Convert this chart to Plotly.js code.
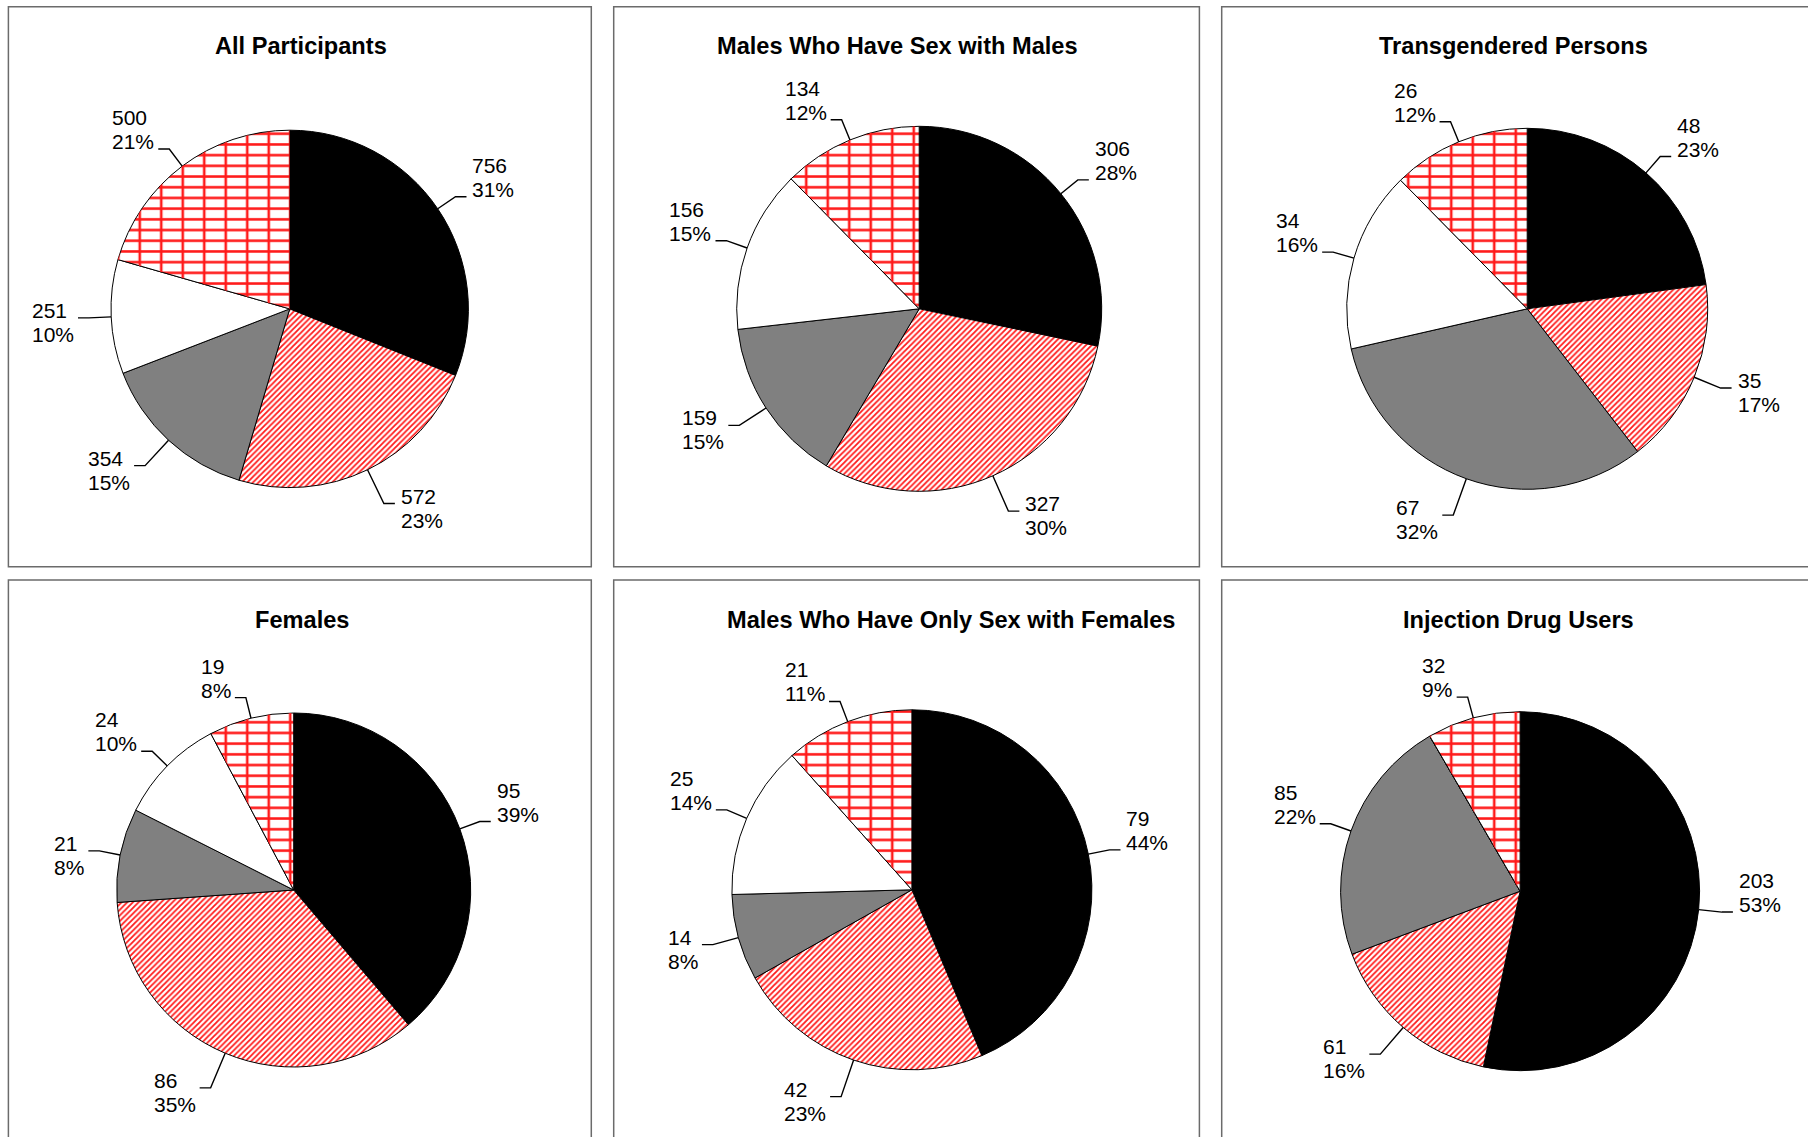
<!DOCTYPE html>
<html><head><meta charset="utf-8">
<script src="https://cdn.plot.ly/plotly-3.0.1.min.js"></script>
<style>html,body{margin:0;padding:0;background:#fff;} #chart{width:1808px;height:1137px;}</style>
</head><body><div id="chart"></div>
<script>
// ---------------- DATA ----------------
const categories = ['Category 1', 'Category 2', 'Category 3', 'Category 4', 'Category 5'];
const panelTitles = ['All Participants', 'Males Who Have Sex with Males', 'Transgendered Persons',
                     'Females', 'Males Who Have Only Sex with Females', 'Injection Drug Users'];
const allParticipants    = [756, 572, 354, 251, 500];
const allParticipantsPct = ['31%', '23%', '15%', '10%', '21%'];
const msm                = [306, 327, 159, 156, 134];
const msmPct             = ['28%', '30%', '15%', '15%', '12%'];
const transgendered      = [48, 35, 67, 34, 26];
const transgenderedPct   = ['23%', '17%', '32%', '16%', '12%'];
const females            = [95, 86, 21, 24, 19];
const femalesPct         = ['39%', '35%', '8%', '10%', '8%'];
const msf                = [79, 42, 14, 25, 21];
const msfPct             = ['44%', '23%', '8%', '14%', '11%'];
const idu                = [203, 61, 85, 0, 32];
const iduPct             = ['53%', '16%', '22%', '', '9%'];

const seriesValues = [allParticipants, msm, transgendered, females, msf, idu];
const seriesPct    = [allParticipantsPct, msmPct, transgenderedPct, femalesPct, msfPct, iduPct];

// ---------------- LAYOUT CONFIG ----------------
const W = 1808, H = 1137;
const FONT = '"Liberation Sans", Arial, Helvetica, sans-serif';
const LABEL_SIZE = 21, LINE_GAP = 24;
const panels = [
  {box: [8.4, 6.7, 591.3, 566.7],     cx: 289.7,  cy: 308.9, r: 178.7, tx: 300.8,  ty: 46},
  {box: [613.7, 6.7, 1199.4, 566.7],  cx: 919.2,  cy: 308.8, r: 182.5, tx: 897.2,  ty: 46},
  {box: [1221.7, 6.7, 1830, 566.7],   cx: 1527.2, cy: 308.8, r: 180.5, tx: 1513,   ty: 46},
  {box: [8.4, 580, 591.3, 1160],      cx: 293.7,  cy: 890,   r: 177,   tx: 301.5,  ty: 619.5},
  {box: [613.7, 580, 1199.4, 1160],   cx: 911.9,  cy: 889.8, r: 180,   tx: 950.8,  ty: 619.5},
  {box: [1221.7, 580, 1830, 1160],    cx: 1520.1, cy: 891.2, r: 179.5, tx: 1518.2, ty: 619.5}
];
const sliceColors = ['#000000', '#ffffff', '#808080', '#ffffff', '#ffffff'];
const px = x => x / W;
const py = y => 1 - y / H;

const ctx = document.createElement('canvas').getContext('2d');
ctx.font = LABEL_SIZE + 'px "Liberation Sans"';
const textW = s => ctx.measureText(s).width;

const traces = [], shapes = [], annotations = [];

panels.forEach((p, i) => {
  const vals = seriesValues[i], pcts = seriesPct[i];
  const domain = {x: [px(p.cx - p.r), px(p.cx + p.r)], y: [py(p.cy + p.r), py(p.cy - p.r)]};
  traces.push({
    type: 'pie', values: vals, labels: categories, sort: false, direction: 'clockwise', rotation: 0,
    textinfo: 'none', hoverinfo: 'label+value', showlegend: false, domain: domain,
    marker: {
      colors: sliceColors, line: {color: '#000000', width: 1},
      pattern: {shape: ['', '/', '', '', '-'], fgcolor: '#ff1a1a', bgcolor: '#ffffff',
                size: [8, 4, 8, 8, 10.7], solidity: [0.3, 0.45, 0.3, 0.3, 0.24], fillmode: 'replace'}
    }
  });
  // overlay providing the vertical joints of the brick fill
  traces.push({
    type: 'pie', values: vals, labels: categories, sort: false, direction: 'clockwise', rotation: 0,
    textinfo: 'none', hoverinfo: 'skip', showlegend: false, domain: domain,
    marker: {
      colors: ['rgba(0,0,0,0)', 'rgba(0,0,0,0)', 'rgba(0,0,0,0)', 'rgba(0,0,0,0)', 'rgba(0,0,0,0)'],
      line: {color: 'rgba(0,0,0,0)', width: 0},
      pattern: {shape: ['', '', '', '', '|'], fgcolor: '#ff1a1a', bgcolor: 'rgba(0,0,0,0)',
                size: 21.5, solidity: 0.12, fillmode: 'replace'}
    }
  });

  // panel frame
  shapes.push({type: 'rect', xref: 'paper', yref: 'paper', x0: px(p.box[0]), x1: px(p.box[2]),
               y0: py(p.box[3]), y1: py(p.box[1]), line: {color: '#6b6b6b', width: 1.5},
               fillcolor: 'rgba(0,0,0,0)', layer: 'below'});
  // title
  annotations.push({xref: 'paper', yref: 'paper', x: px(p.tx), y: py(p.ty), xanchor: 'center', yanchor: 'middle',
                    showarrow: false, text: '<b>' + panelTitles[i] + '</b>', borderpad: 0,
                    font: {family: FONT, size: 23.6, color: '#000000'}});

  // slice labels with leader lines
  const total = vals.reduce((a, b) => a + b, 0);
  let cum = 0;
  vals.forEach((v, j) => {
    const th = 2 * Math.PI * (cum + v / 2) / total;
    cum += v;
    if (!v) return;
    const s = Math.sin(th), c = Math.cos(th);
    const x0 = p.cx + p.r * s, y0 = p.cy - p.r * c;
    const kE = 1.12 + 0.1 * Math.max(0, -c);
    const ex = p.cx + kE * p.r * s, ey = p.cy - kE * p.r * c;
    const side = s >= 0 ? 1 : -1;
    const ax = ex + side * 11, ay = ey;
    const lines = [String(v), pcts[j]];
    const wmax = Math.max(textW(lines[0]), textW(lines[1]));
    const left = side > 0 ? ax + 5 : ax - 5 - wmax;
    const attachBottom = side > 0 ? c > -0.2 : c > 0.25;
    let y1, y2;
    if (attachBottom) { y2 = ay - 7.5; y1 = y2 - LINE_GAP; }
    else { y1 = ay - 7.5; y2 = y1 + LINE_GAP; }
    shapes.push({type: 'path', xref: 'paper', yref: 'paper',
                 path: `M${px(x0)},${py(y0)}L${px(ex)},${py(ey)}L${px(ax)},${py(ay)}`,
                 line: {color: '#000000', width: 1.4}});
    [y1, y2].forEach((yy, k) => {
      annotations.push({xref: 'paper', yref: 'paper', x: px(left), y: py(yy), xanchor: 'left', yanchor: 'middle',
                        showarrow: false, text: lines[k], borderpad: 0,
                        font: {family: FONT, size: LABEL_SIZE, color: '#000000'}});
    });
  });
});

const layout = {
  width: W, height: H, margin: {l: 0, r: 0, t: 0, b: 0},
  paper_bgcolor: '#ffffff', plot_bgcolor: '#ffffff',
  showlegend: false, shapes: shapes, annotations: annotations
};
Plotly.newPlot('chart', traces, layout, {displayModeBar: false, staticPlot: true});
</script>
</body></html>
